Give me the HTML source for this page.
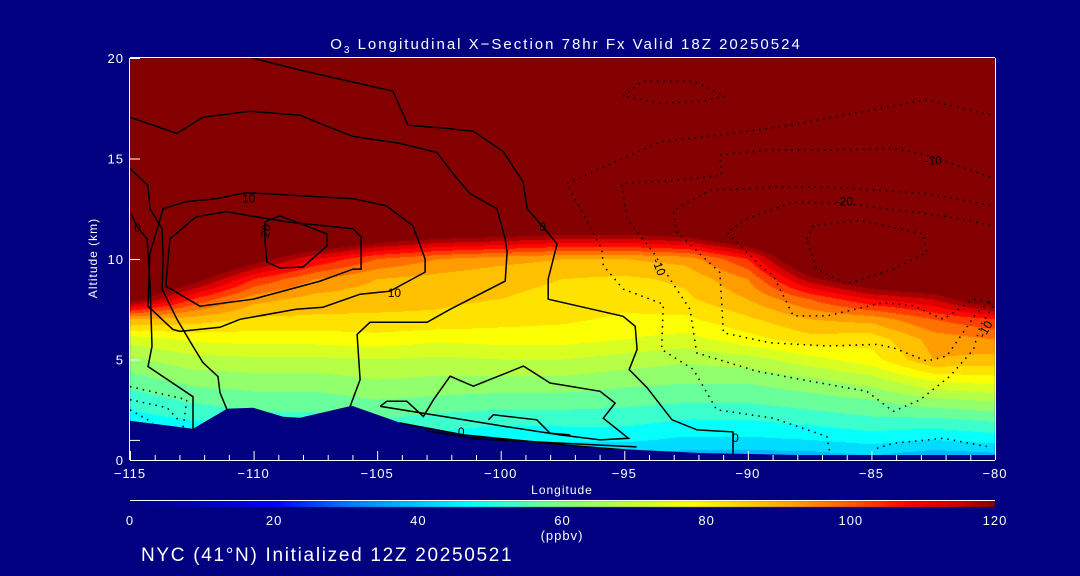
<!DOCTYPE html>
<html><head><meta charset="utf-8">
<style>
html,body{margin:0;padding:0;background:#000080;}
#wrap{position:relative;width:1080px;height:576px;background:#000080;overflow:hidden;font-family:"Liberation Sans",sans-serif;}
canvas{position:absolute;left:0;top:0;}
svg{position:absolute;left:0;top:0;}
text{fill:#fff;font-family:"Liberation Sans",sans-serif;}
</style></head>
<body>
<div id="wrap">
<canvas id="field" width="1080" height="576"></canvas>
<svg id="ov" width="1080" height="576"></svg>
</div>
<script>
// ---- data ----
const lonGrid = [-115,-112.5,-110,-107.5,-105,-102.5,-100,-97.5,-95,-92.5,-90,-87.5,-85,-82.5,-80];
const altGrid = [0,1,2,3,4,5,6,7,8,9,10,11,12];
const o3_115 = [40,42,48,52,58,64,72,90,125,140,140,140,140];
const o3_112 = [42,44,50,56,62,68,76,88,105,125,140,140,140];
const o3_110 = [48,48,53,58,63,69,77,84,92,105,125,140,140];
const o3_107 = [48,48,53,58,63,69,77,84,88,95,110,135,140];
const o3_105 = [48,48,55,60,65,70,78,84,87,90,100,125,140];
const o3_102 = [42,48,53,59,64,69,76,84,86,88,95,120,140];
const o3_100 = [37,45,52,58,64,70,77,82,85,86,92,118,140];
const o3_097 = [38,46,52,58,64,70,77,81,84,85,90,115,140];
const o3_095 = [38,46,52,57,62,68,75,79,82,84,90,115,140];
const o3_092 = [36,44,50,56,61,66,73,79,84,86,92,118,140];
const o3_090 = [36,44,50,56,61,68,78,84,90,95,105,130,140];
const o3_087 = [36,45,52,58,64,73,83,90,100,118,135,140,140];
const o3_085 = [38,47,54,60,68,78,82,92,110,130,140,140,140];
const o3_082 = [35,45,54,64,76,90,92,100,115,135,140,140,140];
const o3_080 = [36,47,56,66,78,88,95,105,130,140,140,140,140];
const o3Cols = [o3_115,o3_112,o3_110,o3_107,o3_105,o3_102,o3_100,o3_097,o3_095,o3_092,o3_090,o3_087,o3_085,o3_082,o3_080];

const terrainLon = [-115,-112.45,-111.07,-110.02,-108.8,-108.12,-106.02,-104.07,-102.45,-101.24,-96.79,-91.93,-87.9,-80];
const terrainAlt = [1.95,1.55,2.55,2.6,2.15,2.1,2.7,1.85,1.5,1.2,0.65,0.35,0.25,0.25];

// solid contours [lon,alt]
const cA = [[-110.06,20],[-108.12,19.4],[-104.36,18.35],[-103.75,16.65],[-102.17,16.5],[-101.1,16.35],[-99.9,15.35],[-99.1,13.85],[-98.93,12.5],[-98.29,11.6],[-97.72,10.75],[-98.08,9.0],[-98.08,8.0],[-95.05,7.15],[-94.56,6.65],[-94.48,5.5],[-94.8,4.5],[-94.08,3.6],[-93.07,2.0],[-92.05,1.5],[-90.6,1.4],[-90.6,0.25]];
const cB = [[-115,17.05],[-113.1,16.25],[-112.05,17.05],[-110.14,17.35],[-108.12,17.15],[-107.03,16.6],[-105.98,16.1],[-104.07,15.75],[-102.58,15.3],[-101.93,14.25],[-101.24,13.25],[-100.15,12.5],[-99.82,11.0],[-99.74,10.35],[-99.82,8.9],[-102.05,7.5],[-102.98,6.85],[-105.29,6.85],[-105.81,6.25],[-105.69,4.0],[-106.1,2.65]];
const cC = [[-115,14.5],[-114.27,13.65],[-114.19,12.5],[-113.7,11.5],[-113.66,10],[-113.7,8.5],[-113.1,7],[-112.45,5.65],[-112.05,4.85],[-111.44,4.15],[-111.36,3.35],[-111.07,2.5]];
const cZ = [[-114.96,12.25],[-114.68,11.55],[-114.31,11],[-114.19,8.85],[-114.11,5.65],[-114.27,4.65],[-112.45,3.15],[-112.45,1.5]];
const cD = [[-114.2,10.25],[-113.66,12.5],[-112.73,12.85],[-111.52,13],[-110.3,13.3],[-105.97,13],[-104.64,12.65],[-103.55,11.65],[-103.06,10],[-103.06,9.35],[-104.48,8.4],[-105.69,8.25],[-107.19,7.6],[-108.28,7.5],[-110.55,7],[-111.36,6.6],[-112.98,6.4],[-113.27,6.5],[-114.27,7.65],[-114.2,10.25]];
const cE = [[-113.46,10],[-113.38,11],[-112.33,12.1],[-111.11,12.35],[-108.68,11.85],[-105.97,11.5],[-105.65,11.1],[-105.65,9.5],[-105.97,9.5],[-107.31,8.9],[-110.02,8],[-112.17,7.65],[-113.55,8.65],[-113.46,10]];
const cF = [[-109.54,11.85],[-108.93,12.15],[-107.03,11.25],[-107.03,10.65],[-108.0,9.6],[-108.93,9.55],[-109.46,9.85],[-109.54,11],[-109.54,11.85]];
const cG = [[-104.88,2.67],[-104.61,2.92],[-103.8,2.92],[-103.13,2.17],[-102.72,3.0],[-102.05,4.17],[-101.11,3.67],[-99.08,4.67],[-98.0,3.83],[-97.6,3.75],[-95.98,3.42],[-95.37,2.83],[-95.85,2.08],[-94.83,1.08],[-95.98,1.0],[-97.6,1.25],[-100,1.7],[-102.5,2.2],[-104.88,2.67]];
const cH = [[-100.5,2.0],[-100.3,2.25],[-98.54,2.0],[-98.0,1.33],[-97.19,1.25]];
const cL1 = [[-104.1,1.85],[-101.5,1.25],[-97,0.7],[-95,0.5]];
const cL2 = [[-103,1.45],[-101,1.05],[-97,0.8],[-94.5,0.65]];
const solidContours = [cA,cB,cC,cZ,cD,cE,cF,cG,cH,cL1,cL2];

// dotted (negative) contours
const dN1 = [[-95.05,18.1],[-94.24,18.85],[-92.22,18.85],[-90.92,18.1],[-91.81,17.85],[-93.55,17.75],[-95.05,18.1]];
const dD1 = [[-87.62,11.0],[-87.35,11.67],[-85.46,11.92],[-82.9,11.25],[-82.76,10.33],[-84.11,9.5],[-86.0,8.75],[-87.21,9.5],[-87.62,11.0]];
const dD2 = [[-80.2,11.67],[-81.41,12],[-82.76,12.25],[-86.0,12.75],[-88.16,12.83],[-90.05,12],[-90.85,11.33],[-89.5,9.67],[-88.97,9.17],[-88.16,7.17],[-86.8,7.17],[-84.51,7.83],[-83.3,7.67],[-82.09,7.0],[-80.87,8.0],[-80.06,7.83]];
const dD3 = [[-80.2,12.67],[-82.76,13.25],[-86.8,13.58],[-88.83,13.58],[-91.53,13.42],[-93.01,12.42],[-92.88,11.33],[-91.13,9.33],[-90.99,6.33],[-89.1,5.83],[-86.8,5.67],[-84.78,5.75],[-84.11,5.58],[-82.76,4.92],[-81.95,5.17],[-80.74,7.33],[-80.06,8.0]];
const dD4 = [[-80.2,14.08],[-82.76,15.17],[-84.11,15.5],[-86.8,15.42],[-89.24,15.42],[-91.13,15.17],[-91.06,14.17],[-92.88,13.92],[-95.1,13.75],[-94.9,12],[-93.82,10.33],[-93.15,9],[-92.34,7.5],[-92.07,5.33],[-89.64,4.42],[-87.48,3.92],[-85.19,3.42],[-84.11,2.42],[-83.03,3.0],[-81.82,4.17],[-80.87,5.5],[-80.6,6.67],[-80.06,7.67]];
const dD5 = [[-80.2,17.17],[-82.76,17.92],[-86.8,17],[-88.16,16.67],[-91.13,16.17],[-93.55,15.83],[-97.33,13.75],[-95.91,10.5],[-95.85,9.67],[-95.04,8.5],[-93.42,7.75],[-93.49,5.5],[-92.2,4.5],[-91.26,2.5],[-88.97,2.08],[-86.8,1.17],[-86.67,0.25]];
const dD6 = [[-84.78,0.58],[-84.11,0.83],[-82.09,1.08],[-80.33,0.67]];
const dL1 = [[-115,3.65],[-112.7,3.0],[-112.85,1.6]];
const dL2 = [[-115,3.0],[-113.5,2.6],[-112.98,1.9]];
const dL3 = [[-115,2.5],[-114.07,1.85]];
const dottedContours = [dN1,dD1,dD2,dD3,dD4,dD5,dD6,dL1,dL2,dL3];

const labelText = ["10","20","10","0","0","-10","-20","-10","-10","0","0"];
const labelLon = [-110.2,-109.5,-104.3,-114.7,-98.3,-82.5,-86.1,-93.6,-80.4,-101.6,-90.5];
const labelAlt = [13,11.4,8.3,11.55,11.6,14.9,12.85,9.6,6.5,1.4,1.1];
const labelRot = [0,-80,0,0,0,0,0,70,-60,0,0];

const xTicks = [-115,-110,-105,-100,-95,-90,-85,-80];
const yTicks = [0,5,10,15,20];
const cbTicks = [0,20,40,60,80,100,120];

// colormap stops
const cmV = [0,20,30,40,47,53,60,70,78,85,92,100,108,115,120];
const cmR = [0,0,0,0,0,64,128,200,255,255,255,255,255,200,132];
const cmG = [0,0,120,200,255,255,255,255,255,210,160,90,0,0,0];
const cmB = [128,255,255,255,255,200,128,50,0,0,0,0,0,0,0];

// ---- geometry ----
const PX0=130, PX1=995, PY0=58, PY1=460;
const LON0=-115, LON1=-80, ALT0=0, ALT1=20;
function xs(lon){return PX0+(lon-LON0)/(LON1-LON0)*(PX1-PX0);}
function ys(alt){return PY1-(alt-ALT0)/(ALT1-ALT0)*(PY1-PY0);}
function cmap(v){
  v=Math.max(0,Math.min(120,v));
  for(let i=0;i<cmV.length-1;i++){
    if(v<=cmV[i+1]){const t=(v-cmV[i])/(cmV[i+1]-cmV[i]);
      return [cmR[i]+t*(cmR[i+1]-cmR[i]),cmG[i]+t*(cmG[i+1]-cmG[i]),cmB[i]+t*(cmB[i+1]-cmB[i])];}
  }
  return [132,0,0];
}
function valAt(lon,alt){
  let fi=(lon-lonGrid[0])/(lonGrid[1]-lonGrid[0]);
  fi=Math.max(0,Math.min(lonGrid.length-1.0001,fi));
  const i=Math.floor(fi), tx=fi-i;
  if(alt>=altGrid[altGrid.length-1]) return 140;
  let fj=Math.max(0,alt); const j=Math.floor(fj), ty=fj-j;
  const a=o3Cols[i][j],b=o3Cols[i+1][j],c=o3Cols[i][j+1],d=o3Cols[i+1][j+1];
  return (a*(1-tx)+b*tx)*(1-ty)+(c*(1-tx)+d*tx)*ty;
}
// ---- field ----
const cv=document.getElementById('field'); const ctx=cv.getContext('2d');
const img=ctx.createImageData(PX1-PX0,PY1-PY0);
for(let y=0;y<PY1-PY0;y++){
  const alt=ALT1-(y+0.5)/(PY1-PY0)*(ALT1-ALT0);
  for(let x=0;x<PX1-PX0;x++){
    const lon=LON0+(x+0.5)/(PX1-PX0)*(LON1-LON0);
    let v=valAt(lon,alt); v=Math.floor(v/5)*5+2.5; if(v>120)v=120;
    const c=cmap(v); const k=(y*(PX1-PX0)+x)*4;
    img.data[k]=c[0];img.data[k+1]=c[1];img.data[k+2]=c[2];img.data[k+3]=255;
  }
}
ctx.putImageData(img,PX0,PY0);
// colorbar
for(let x=PX0;x<PX1;x++){
  const v=(x-PX0)/(PX1-PX0)*120; const c=cmap(v);
  ctx.fillStyle=`rgb(${c[0]|0},${c[1]|0},${c[2]|0})`; ctx.fillRect(x,501,1,6);
}
// ---- overlay ----
const NS='http://www.w3.org/2000/svg'; const sv=document.getElementById('ov');
function mk(tag,attrs,parent){const e=document.createElementNS(NS,tag);for(const k in attrs)e.setAttribute(k,attrs[k]);(parent||sv).appendChild(e);return e;}
const defs=mk('defs',{}); const cp=mk('clipPath',{id:'pc'},defs); mk('rect',{x:PX0,y:PY0,width:PX1-PX0,height:PY1-PY0},cp);
// terrain
let tp='M'+xs(terrainLon[0])+','+PY1;
for(let i=0;i<terrainLon.length;i++) tp+=' L'+xs(terrainLon[i]).toFixed(1)+','+ys(terrainAlt[i]).toFixed(1);
tp+=' L'+PX1+','+PY1+' Z';
const terr=mk('path',{d:tp,fill:'#000080'});


const cg=mk('g',{'clip-path':'url(#pc)'});


function pts(arr){return arr.map(p=>xs(p[0]).toFixed(1)+','+ys(p[1]).toFixed(1)).join(' ');}
solidContours.forEach(c=>{const e=mk('polyline',{points:pts(c),fill:'none',stroke:'#000','stroke-width':1.5},cg);
  
  });
dottedContours.forEach(c=>{const e=mk('polyline',{points:pts(c),fill:'none',stroke:'#000','stroke-width':1.5,'stroke-dasharray':'1.5 5'},cg);
  
  });
for(let i=0;i<labelText.length;i++){
  const x=xs(labelLon[i]),y=ys(labelAlt[i]);
  const t=mk('text',{x:x,y:y+4,'font-size':12,'text-anchor':'middle',transform:`rotate(${labelRot[i]} ${x} ${y})`},cg);
  t.setAttribute('style','fill:#000');
  
  
  t.textContent=labelText[i];
}
// axes
const ax=mk('g',{stroke:'#fff','stroke-width':1,fill:'none'});


mk('line',{x1:PX0,y1:PY1+0.5,x2:PX1,y2:PY1+0.5},ax);
mk('line',{x1:PX0,y1:PY0-0.5,x2:PX1,y2:PY0-0.5},ax);
mk('line',{x1:PX0-0.5,y1:PY0,x2:PX0-0.5,y2:PY1},ax);
mk('line',{x1:PX1+0.5,y1:PY0,x2:PX1+0.5,y2:PY1},ax);
mk('line',{x1:PX0,y1:500.5,x2:PX1,y2:500.5},ax);
for(let l=LON0;l<=LON1;l++){const x=xs(l)+0.5;const big=(l%5===0);
  mk('line',{x1:x,y1:PY1,x2:x,y2:PY1-(big?9:5)},ax);}
for(let a=1;a<=20;a++){ if(a%5!==0 && a!==1) continue; const y=ys(a)+0.5; mk('line',{x1:PX0,y1:y,x2:PX0+10,y2:y},ax);}
xTicks.forEach(v=>{const t=mk('text',{x:xs(v),y:478,'font-size':13,'text-anchor':'middle','letter-spacing':1});
  
  
  t.textContent=(v<0?'\u2212':'')+Math.abs(v);});
yTicks.forEach(v=>{const t=mk('text',{x:124,y:ys(v)+5,'font-size':13,'text-anchor':'end','letter-spacing':1});
  
  
  t.textContent=v;});
cbTicks.forEach(v=>{const t=mk('text',{x:PX0+v/120*(PX1-PX0),y:525,'font-size':13,'text-anchor':'middle','letter-spacing':1});
  
  
  t.textContent=v;});
</script>
<svg width="1080" height="576" style="position:absolute;left:0;top:0;pointer-events:none">
<text x="566" y="49" font-size="15" text-anchor="middle" letter-spacing="2">O<tspan font-size="10" dy="4">3</tspan><tspan dy="-4"> Longitudinal X−Section 78hr  Fx Valid 18Z 20250524</tspan></text>
<text x="562" y="494" font-size="12" text-anchor="middle" letter-spacing="1">Longitude</text>
<text x="97" y="258" font-size="12" text-anchor="middle" letter-spacing="1" transform="rotate(-90 97 258)">Altitude (km)</text>
<text x="562" y="540" font-size="13" text-anchor="middle" letter-spacing="1">(ppbv)</text>
<text x="141" y="561" font-size="19" letter-spacing="1.7">NYC (41°N) Initialized 12Z 20250521</text>
</svg>
</body></html>
